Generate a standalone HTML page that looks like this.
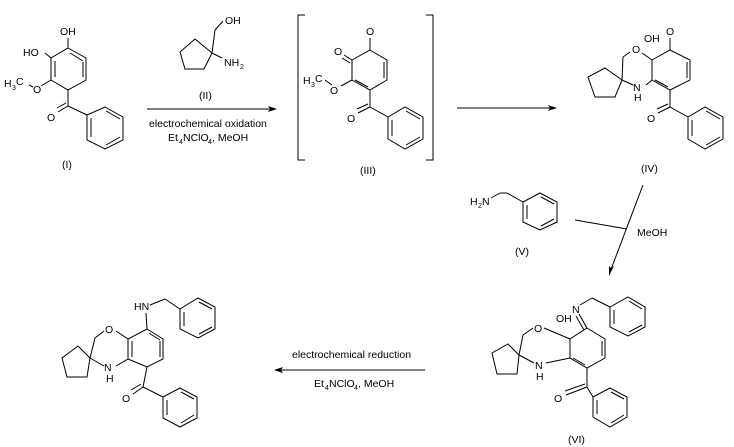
<!DOCTYPE html>
<html><head><meta charset="utf-8"><style>
html,body{margin:0;padding:0;background:#fff;}
svg{display:block;}
text{font-family:"Liberation Sans",sans-serif;font-size:10.5px;fill:#000;}
.s{font-size:7px;}
</style></head><body>
<svg width="734" height="447" viewBox="0 0 734 447" xmlns="http://www.w3.org/2000/svg">
<g stroke="#000" stroke-width="1" fill="none">
<!-- (I) -->
<polygon points="68,48 86,58 86,80 68,90 51,80 51,58"/>
<line x1="70" y1="53" x2="83" y2="61"/><line x1="83" y1="62" x2="83" y2="77"/>
<line x1="55" y1="61" x2="55" y2="77"/><line x1="68" y1="48" x2="68" y2="38"/>
<line x1="51" y1="58" x2="45" y2="53"/><line x1="51" y1="80" x2="41" y2="86"/>
<line x1="29" y1="85" x2="33" y2="87"/>
<line x1="68" y1="90" x2="68" y2="106"/><line x1="68" y1="106" x2="58" y2="112"/><line x1="66" y1="103" x2="57" y2="108"/>
<line x1="68" y1="106" x2="87" y2="115"/>
<polygon points="87,115 105,107 123,117 123,140 105,149 87,140"/>
<line x1="91" y1="118" x2="91" y2="137"/><line x1="106" y1="111" x2="120" y2="119"/><line x1="106" y1="145" x2="120" y2="137"/>
<!-- (II) -->
<polygon points="195,39 212,53 204,69 185,69 180,52"/>
<line x1="212" y1="53" x2="215" y2="30"/><line x1="215" y1="30" x2="223" y2="21"/>
<line x1="212" y1="53" x2="222" y2="58"/>
<!-- arrow 1 -->
<line x1="147" y1="109" x2="272" y2="109"/>
<!-- brackets -->
<polyline points="305,15 298,15 298,160 305,160"/>
<polyline points="426,15 433,15 433,160 426,160"/>
<!-- (III) -->
<polygon points="370,50 387,60 387,80 370,90 352,80 352,60"/>
<line x1="384" y1="62" x2="384" y2="78"/><line x1="355" y1="80" x2="368" y2="87"/>
<line x1="370" y1="50" x2="370" y2="38"/><line x1="352" y1="60" x2="344" y2="55"/><line x1="350" y1="63" x2="342" y2="58"/>
<line x1="352" y1="80" x2="341" y2="86"/><line x1="325" y1="80" x2="332" y2="85"/>
<line x1="370" y1="90" x2="370" y2="107"/><line x1="370" y1="107" x2="358" y2="113"/><line x1="368" y1="104" x2="357" y2="109"/>
<line x1="370" y1="107" x2="388" y2="117"/>
<polygon points="388,117 405,107 423,117 423,139 405,149 388,139"/>
<line x1="392" y1="120" x2="392" y2="136"/><line x1="406" y1="111" x2="420" y2="119"/><line x1="406" y1="145" x2="420" y2="137"/>
<!-- arrow 2 -->
<line x1="457" y1="108" x2="553" y2="108"/>
<!-- (IV) -->
<polygon points="670,50 690,60 690,80 670,90 652,80 652,60"/>
<line x1="687" y1="62" x2="687" y2="78"/><line x1="655" y1="80" x2="668" y2="87"/>
<line x1="670" y1="50" x2="670" y2="38"/>
<line x1="652" y1="60" x2="642" y2="53"/><line x1="630" y1="52" x2="623" y2="57"/><line x1="623" y1="57" x2="622" y2="80"/>
<line x1="622" y1="80" x2="633" y2="85"/><line x1="646" y1="85" x2="652" y2="80"/>
<polygon points="622,80 605,68 588,77 595,97 615,97"/>
<line x1="670" y1="90" x2="670" y2="107"/><line x1="670" y1="107" x2="658" y2="113"/><line x1="668" y1="104" x2="657" y2="109"/>
<line x1="670" y1="107" x2="688" y2="117"/>
<polygon points="688,117 705,107 723,117 723,139 705,149 688,139"/>
<line x1="692" y1="120" x2="692" y2="136"/><line x1="706" y1="111" x2="720" y2="119"/><line x1="706" y1="145" x2="720" y2="137"/>
<!-- (V) -->
<line x1="491" y1="198" x2="500" y2="193"/><line x1="500" y1="193" x2="507" y2="193"/><line x1="507" y1="193" x2="523" y2="202"/>
<polygon points="523,202 540,193 557,202 557,222 540,230 523,222"/>
<line x1="527" y1="205" x2="527" y2="219"/><line x1="541" y1="197" x2="554" y2="204"/><line x1="541" y1="226" x2="554" y2="219"/>
<!-- arrow 3 -->
<line x1="643" y1="185" x2="610" y2="272"/><line x1="575" y1="220" x2="627" y2="229"/>
<!-- (VI) -->
<polygon points="587,328 605,339 605,358 587,368 570,358 570,339"/>
<line x1="602" y1="341" x2="602" y2="356"/><line x1="573" y1="358" x2="585" y2="365"/>
<line x1="587" y1="328" x2="579" y2="314"/><line x1="584" y1="330" x2="576" y2="316"/>
<line x1="580" y1="305" x2="592" y2="298"/><line x1="592" y1="298" x2="610" y2="307"/>
<polygon points="610,307 628,297 645,307 645,327 628,336 610,327"/>
<line x1="614" y1="310" x2="614" y2="324"/><line x1="629" y1="301" x2="642" y2="309"/><line x1="629" y1="332" x2="642" y2="325"/>
<line x1="570" y1="339" x2="544" y2="328"/><line x1="533" y1="328" x2="523" y2="335"/><line x1="523" y1="335" x2="519" y2="355"/>
<line x1="519" y1="355" x2="534" y2="363"/><line x1="546" y1="363" x2="570" y2="358"/>
<polygon points="519,355 508,344 492,353 497,374 517,374"/>
<line x1="587" y1="368" x2="587" y2="387"/><line x1="587" y1="387" x2="566" y2="395"/><line x1="585" y1="384" x2="565" y2="391"/>
<line x1="587" y1="387" x2="593" y2="397"/>
<polygon points="593,397 610,388 627,397 627,417 610,427 593,417"/>
<line x1="597" y1="400" x2="597" y2="414"/><line x1="611" y1="392" x2="624" y2="399"/><line x1="611" y1="423" x2="624" y2="415"/>
<!-- arrow 4 -->
<line x1="278" y1="370" x2="425" y2="370"/>
<!-- final product -->
<polygon points="147,329 163,339 163,359 147,367 128,359 128,339"/>
<line x1="160" y1="341" x2="160" y2="357"/><line x1="132" y1="341" x2="132" y2="357"/><line x1="149" y1="333" x2="160" y2="340"/>
<line x1="147" y1="329" x2="146" y2="313"/><line x1="150" y1="305" x2="165" y2="299"/><line x1="165" y1="299" x2="180" y2="309"/>
<polygon points="180,309 198,298 215,307 215,329 198,338 180,329"/>
<line x1="184" y1="312" x2="184" y2="326"/><line x1="199" y1="302" x2="212" y2="309"/><line x1="199" y1="334" x2="212" y2="327"/>
<line x1="128" y1="339" x2="116" y2="331"/><line x1="104" y1="331" x2="95" y2="338"/><line x1="95" y1="338" x2="90" y2="358"/>
<line x1="90" y1="358" x2="104" y2="366"/><line x1="116" y1="366" x2="128" y2="359"/>
<polygon points="90,358 78,346 62,358 67,377 87,377"/>
<line x1="147" y1="367" x2="143" y2="387"/><line x1="143" y1="387" x2="133" y2="394"/><line x1="141" y1="384" x2="131" y2="390"/>
<line x1="143" y1="387" x2="163" y2="397"/>
<polygon points="163,397 180,388 197,397 197,418 180,427 163,418"/>
<line x1="167" y1="400" x2="167" y2="415"/><line x1="181" y1="392" x2="194" y2="399"/><line x1="181" y1="423" x2="194" y2="415"/>
</g>
<g fill="#000">
<polygon points="277,109 268,106 270,109 268,112"/>
<polygon points="557,108 548,105 550,108 548,111"/>
<polygon points="609,276 609,266 611,268 614,266"/>
<polygon points="274,370 283,367 281,370 283,373"/>
</g>
<!-- texts -->
<text x="60" y="35">OH</text>
<text x="23" y="56">HO</text>
<text x="4" y="87">H</text><text class="s" x="12" y="90">3</text><text x="16" y="85">C</text>
<text x="33" y="93">O</text>
<text x="47" y="121">O</text>
<text x="62" y="168">(I)</text>
<text x="225" y="24">OH</text>
<text x="224" y="66">NH</text><text class="s" x="240" y="69">2</text>
<text x="199" y="99">(II)</text>
<text x="149" y="127">electrochemical oxidation</text>
<text x="168" y="141">Et</text><text class="s" x="179" y="144">4</text><text x="183" y="141">NClO</text><text class="s" x="208" y="144">4</text><text x="212" y="141">, MeOH</text>
<text x="366" y="35">O</text>
<text x="334" y="55">O</text>
<text x="303" y="84">H</text><text class="s" x="311" y="87">3</text><text x="315" y="82">C</text>
<text x="330" y="94">O</text>
<text x="347" y="122">O</text>
<text x="360" y="174">(III)</text>
<text x="666" y="35">O</text>
<text x="644" y="42">OH</text>
<text x="632" y="53">O</text>
<text x="633" y="91">N</text><text x="634" y="101">H</text>
<text x="647" y="122">O</text>
<text x="641" y="172">(IV)</text>
<text x="470" y="205">H</text><text class="s" x="478" y="208">2</text><text x="482" y="205">N</text>
<text x="515" y="255">(V)</text>
<text x="637" y="236">MeOH</text>
<text x="572" y="313">N</text>
<text x="556" y="322">OH</text>
<text x="534" y="332">O</text>
<text x="535" y="369">N</text><text x="536" y="380">H</text>
<text x="554" y="402">O</text>
<text x="568" y="443">(VI)</text>
<text x="292" y="358">electrochemical reduction</text>
<text x="314" y="387">Et</text><text class="s" x="325" y="390">4</text><text x="329" y="387">NClO</text><text class="s" x="354" y="390">4</text><text x="358" y="387">, MeOH</text>
<text x="134" y="310">HN</text>
<text x="105" y="333">O</text>
<text x="104" y="371">N</text><text x="106" y="382">H</text>
<text x="122" y="402">O</text>
</svg>
</body></html>
